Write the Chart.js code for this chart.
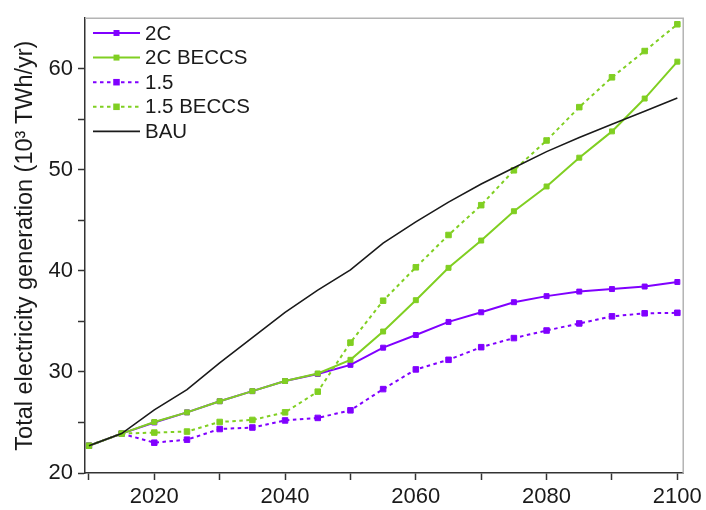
<!DOCTYPE html>
<html lang="en">
<head>
<meta charset="UTF-8">
<title>Total electricity generation</title>
<script src="https://cdn.jsdelivr.net/npm/chart.js"></script>
<style>
  html, body { margin: 0; padding: 0; background: #fff; }
  .wrap { width: 706px; height: 510px; position: relative; }
</style>
</head>
<body>
<div class="wrap"><canvas id="gen"></canvas></div>
<script>
// scenario years and electricity generation (10^3 TWh/yr)
const years = [2010, 2015, 2020, 2025, 2030, 2035, 2040, 2045, 2050, 2055,
               2060, 2065, 2070, 2075, 2080, 2085, 2090, 2095, 2100];
const twoC = [22.7, 23.9, 25.0, 26.0, 27.1, 28.1, 29.1, 29.8, 30.7, 32.4,
              33.65, 34.95, 35.9, 36.9, 37.5, 37.95, 38.2, 38.45, 38.9];
const twoCBeccs = [22.7, 23.9, 25.05, 26.0, 27.1, 28.1, 29.1, 29.85, 31.2, 34.0,
                   37.1, 40.3, 43.0, 45.9, 48.35, 51.2, 53.8, 57.05, 60.7];
const onePointFive = [22.7, 23.9, 23.0, 23.3, 24.35, 24.5, 25.2, 25.45, 26.2, 28.3,
                      30.25, 31.2, 32.45, 33.35, 34.1, 34.8, 35.5, 35.8, 35.85];
const onePointFiveBeccs = [22.7, 23.9, 24.0, 24.1, 25.05, 25.25, 26.0, 28.05, 32.9, 37.05,
                           40.35, 43.55, 46.5, 49.95, 52.9, 56.2, 59.15, 61.75, 64.4];
const bau = [22.7, 23.9, 26.25, 28.25, 30.9, 33.4, 35.9, 38.1, 40.1, 42.75,
             44.85, 46.8, 48.6, 50.2, 51.8, 53.2, 54.5, 55.8, 57.1];

const xTicks = [2010, 2020, 2030, 2040, 2050, 2060, 2070, 2080, 2090, 2100];
const xLabels = [2020, 2040, 2060, 2080, 2100];
const yTicks = [20, 25, 30, 35, 40, 45, 50, 55, 60];
const yLabels = [20, 30, 40, 50, 60];

const PURPLE = '#8000ff';
const GREEN = '#80cf22';
const FONT = "'Liberation Sans', Arial, sans-serif";

function toPoints(vals) {
  return years.map((y, i) => ({ x: y, y: vals[i] }));
}

function series(label, vals, color, dashed, order) {
  return {
    label: label,
    data: toPoints(vals),
    borderColor: color,
    backgroundColor: color,
    borderWidth: 2,
    borderDash: dashed ? [3.5, 3.5] : [],
    pointStyle: 'rect',
    pointRadius: dashed ? 3.9 : 3.5,
    pointBorderWidth: 1,
    pointBorderColor: color,
    pointBackgroundColor: color,
    tension: 0,
    order: order
  };
}

// legend drawn inside the plot, top-left, line sample with marker in the middle
const insideLegend = {
  id: 'insideLegend',
  afterDraw(chart) {
    const ctx = chart.ctx;
    const x0 = chart.chartArea.left + 8, x1 = x0 + 47;
    let y = 33;
    ctx.save();
    chart.data.datasets.forEach(ds => {
      ctx.strokeStyle = ds.borderColor;
      ctx.lineWidth = ds.borderWidth;
      ctx.setLineDash(ds.borderDash || []);
      ctx.beginPath();
      ctx.moveTo(x0, y);
      ctx.lineTo(x1, y);
      ctx.stroke();
      ctx.setLineDash([]);
      if (ds.pointRadius > 0) {
        const s = ds.pointRadius * Math.SQRT2 + 1;
        ctx.fillStyle = ds.borderColor;
        ctx.fillRect((x0 + x1) / 2 - s / 2, y - s / 2, s, s);
      }
      ctx.fillStyle = '#1a1a1a';
      ctx.font = '20.5px ' + FONT;
      ctx.textBaseline = 'middle';
      ctx.textAlign = 'left';
      ctx.fillText(ds.label, x1 + 5, y + 1);
      y += 24.6;
    });
    ctx.restore();
  }
};

// light frame on the top and right of the plot area
const frame = {
  id: 'frame',
  beforeDatasetsDraw(chart) {
    const { top, right, left, bottom } = chart.chartArea;
    const ctx = chart.ctx;
    ctx.save();
    ctx.strokeStyle = '#b4b4b4';
    ctx.lineWidth = 1.5;
    ctx.beginPath();
    ctx.moveTo(left, top);
    ctx.lineTo(right, top);
    ctx.lineTo(right, bottom);
    ctx.stroke();
    ctx.restore();
  }
};

new Chart(document.getElementById('gen'), {
  type: 'line',
  data: {
    datasets: [
      series('2C', twoC, PURPLE, false, 3),
      series('2C BECCS', twoCBeccs, GREEN, false, 1),
      series('1.5', onePointFive, PURPLE, true, 4),
      series('1.5 BECCS', onePointFiveBeccs, GREEN, true, 2),
      {
        label: 'BAU',
        data: toPoints(bau),
        borderColor: '#1a1a1a',
        borderWidth: 1.6,
        pointRadius: 0,
        tension: 0,
        order: 0
      }
    ]
  },
  options: {
    responsive: true,
    maintainAspectRatio: false,
    animation: false,
    layout: { padding: { top: 11, right: 19, left: 0, bottom: 0 } },
    plugins: {
      legend: { display: false },
      tooltip: { enabled: false }
    },
    scales: {
      x: {
        type: 'linear',
        min: 2009.4,
        max: 2100.9,
        afterBuildTicks: s => { s.ticks = xTicks.map(v => ({ value: v })); },
        afterFit: s => { s.height = 37; },
        ticks: {
          autoSkip: false,
          maxRotation: 0,
          padding: 4,
          color: '#1a1a1a',
          font: { family: FONT, size: 22 },
          callback: v => xLabels.includes(v) ? String(v) : ''
        },
        grid: { drawOnChartArea: false, tickLength: 7, tickColor: '#333', tickWidth: 1.5 },
        border: { color: '#333', width: 1.5 }
      },
      y: {
        min: 20,
        max: 65,
        afterBuildTicks: s => { s.ticks = yTicks.map(v => ({ value: v })); },
        afterFit: s => { s.width = 85; },
        ticks: {
          autoSkip: false,
          padding: 5,
          color: '#1a1a1a',
          font: { family: FONT, size: 22 },
          callback: v => yLabels.includes(v) ? String(v) : ''
        },
        title: {
          display: true,
          text: 'Total electricity generation (10\u00B3 TWh/yr)',
          color: '#1a1a1a',
          font: { family: FONT, size: 23.5 },
          padding: { top: 11, bottom: 0 }
        },
        grid: { drawOnChartArea: false, tickLength: 7, tickColor: '#333', tickWidth: 1.5 },
        border: { color: '#333', width: 1.5 }
      }
    }
  },
  plugins: [frame, insideLegend]
});
</script>
</body>
</html>
